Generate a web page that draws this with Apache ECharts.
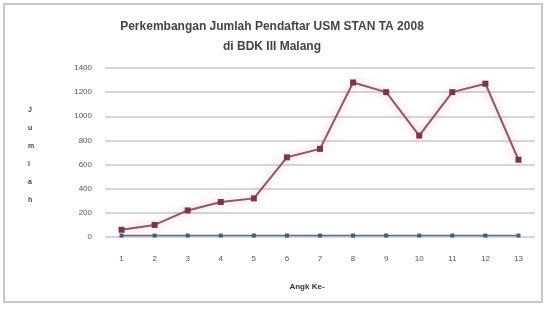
<!DOCTYPE html>
<html>
<head>
<meta charset="utf-8">
<script src="https://cdn.jsdelivr.net/npm/echarts@6/dist/echarts.min.js"></script>
<style>
  html, body { margin: 0; padding: 0; background: #fff; }
  #main { width: 549px; height: 309px; }
</style>
</head>
<body>
<div id="main"></div>
<script>
// data
var categories = ['1','2','3','4','5','6','7','8','9','10','11','12','13'];
var pendaftar = [60, 100, 220, 290, 320, 660, 730, 1280, 1200, 840, 1200, 1270, 640];
var diterima = [12, 12, 12, 12, 12, 12, 12, 12, 12, 12, 12, 12, 12];
var yTicks = [0, 200, 400, 600, 800, 1000, 1200, 1400];

var myChart = echarts.init(document.getElementById('main'));
var option = {
    backgroundColor: '#fff',
    animation: false,
    title: {
        text: 'Perkembangan Jumlah Pendaftar USM STAN TA 2008\ndi BDK III Malang',
        left: 267, top: 12, textAlign: 'center',
        textStyle: { fontSize: 12, fontWeight: 'bold', color: '#444', lineHeight: 20, fontFamily: 'Liberation Sans' }
    },
    graphic: [
        { type: 'rect', shape: { x: 4, y: 4, width: 538, height: 298 },
          style: { fill: 'none', stroke: '#c8c8c8', lineWidth: 2 } },
        { type: 'text', left: 28, top: 101,
          style: { text: 'J\nu\nm\nl\na\nh', fontSize: 7, lineHeight: 18, fill: '#444', fontFamily: 'Liberation Sans', fontWeight: 'bold' } }
    ],
    grid: { left: 105, right: 14, top: 68, bottom: 72 },
    xAxis: {
        type: 'category', data: categories,
        name: 'Angk Ke-', nameLocation: 'middle', nameGap: 46,
        nameTextStyle: { fontSize: 8, fontWeight: 'bold', color: '#333', fontFamily: 'Liberation Sans', padding: [0, 26, 0, 0] },
        axisLine: { show: false },
        axisTick: { show: false },
        axisLabel: { fontSize: 8, color: '#555', margin: 18, fontFamily: 'Liberation Sans' }
    },
    yAxis: {
        type: 'value', min: yTicks[0], max: yTicks[yTicks.length - 1], interval: 200,
        axisLine: { show: false }, axisTick: { show: false },
        axisLabel: { fontSize: 8, color: '#555', margin: 13, fontFamily: 'Liberation Sans',
            formatter: function (v) { return String(v); } },
        splitLine: { lineStyle: { color: '#d6d6d6', width: 2 } }
    },
    series: [
        {
            name: 'Diterima', type: 'line', data: diterima,
            symbol: 'rect', symbolSize: 4,
            lineStyle: { color: '#5a6a8a', width: 1.5 },
            itemStyle: { color: '#4a5a7a' },
            z: 2
        },
        {
            name: 'Pendaftar', type: 'line', data: pendaftar,
            symbol: 'rect', symbolSize: 6,
            lineStyle: { color: '#8a5a62', width: 2, shadowColor: 'rgba(255,120,140,0.6)', shadowBlur: 8 },
            itemStyle: { color: '#7a3548' },
            z: 3
        }
    ]
};
myChart.setOption(option);
</script>
</body>
</html>
